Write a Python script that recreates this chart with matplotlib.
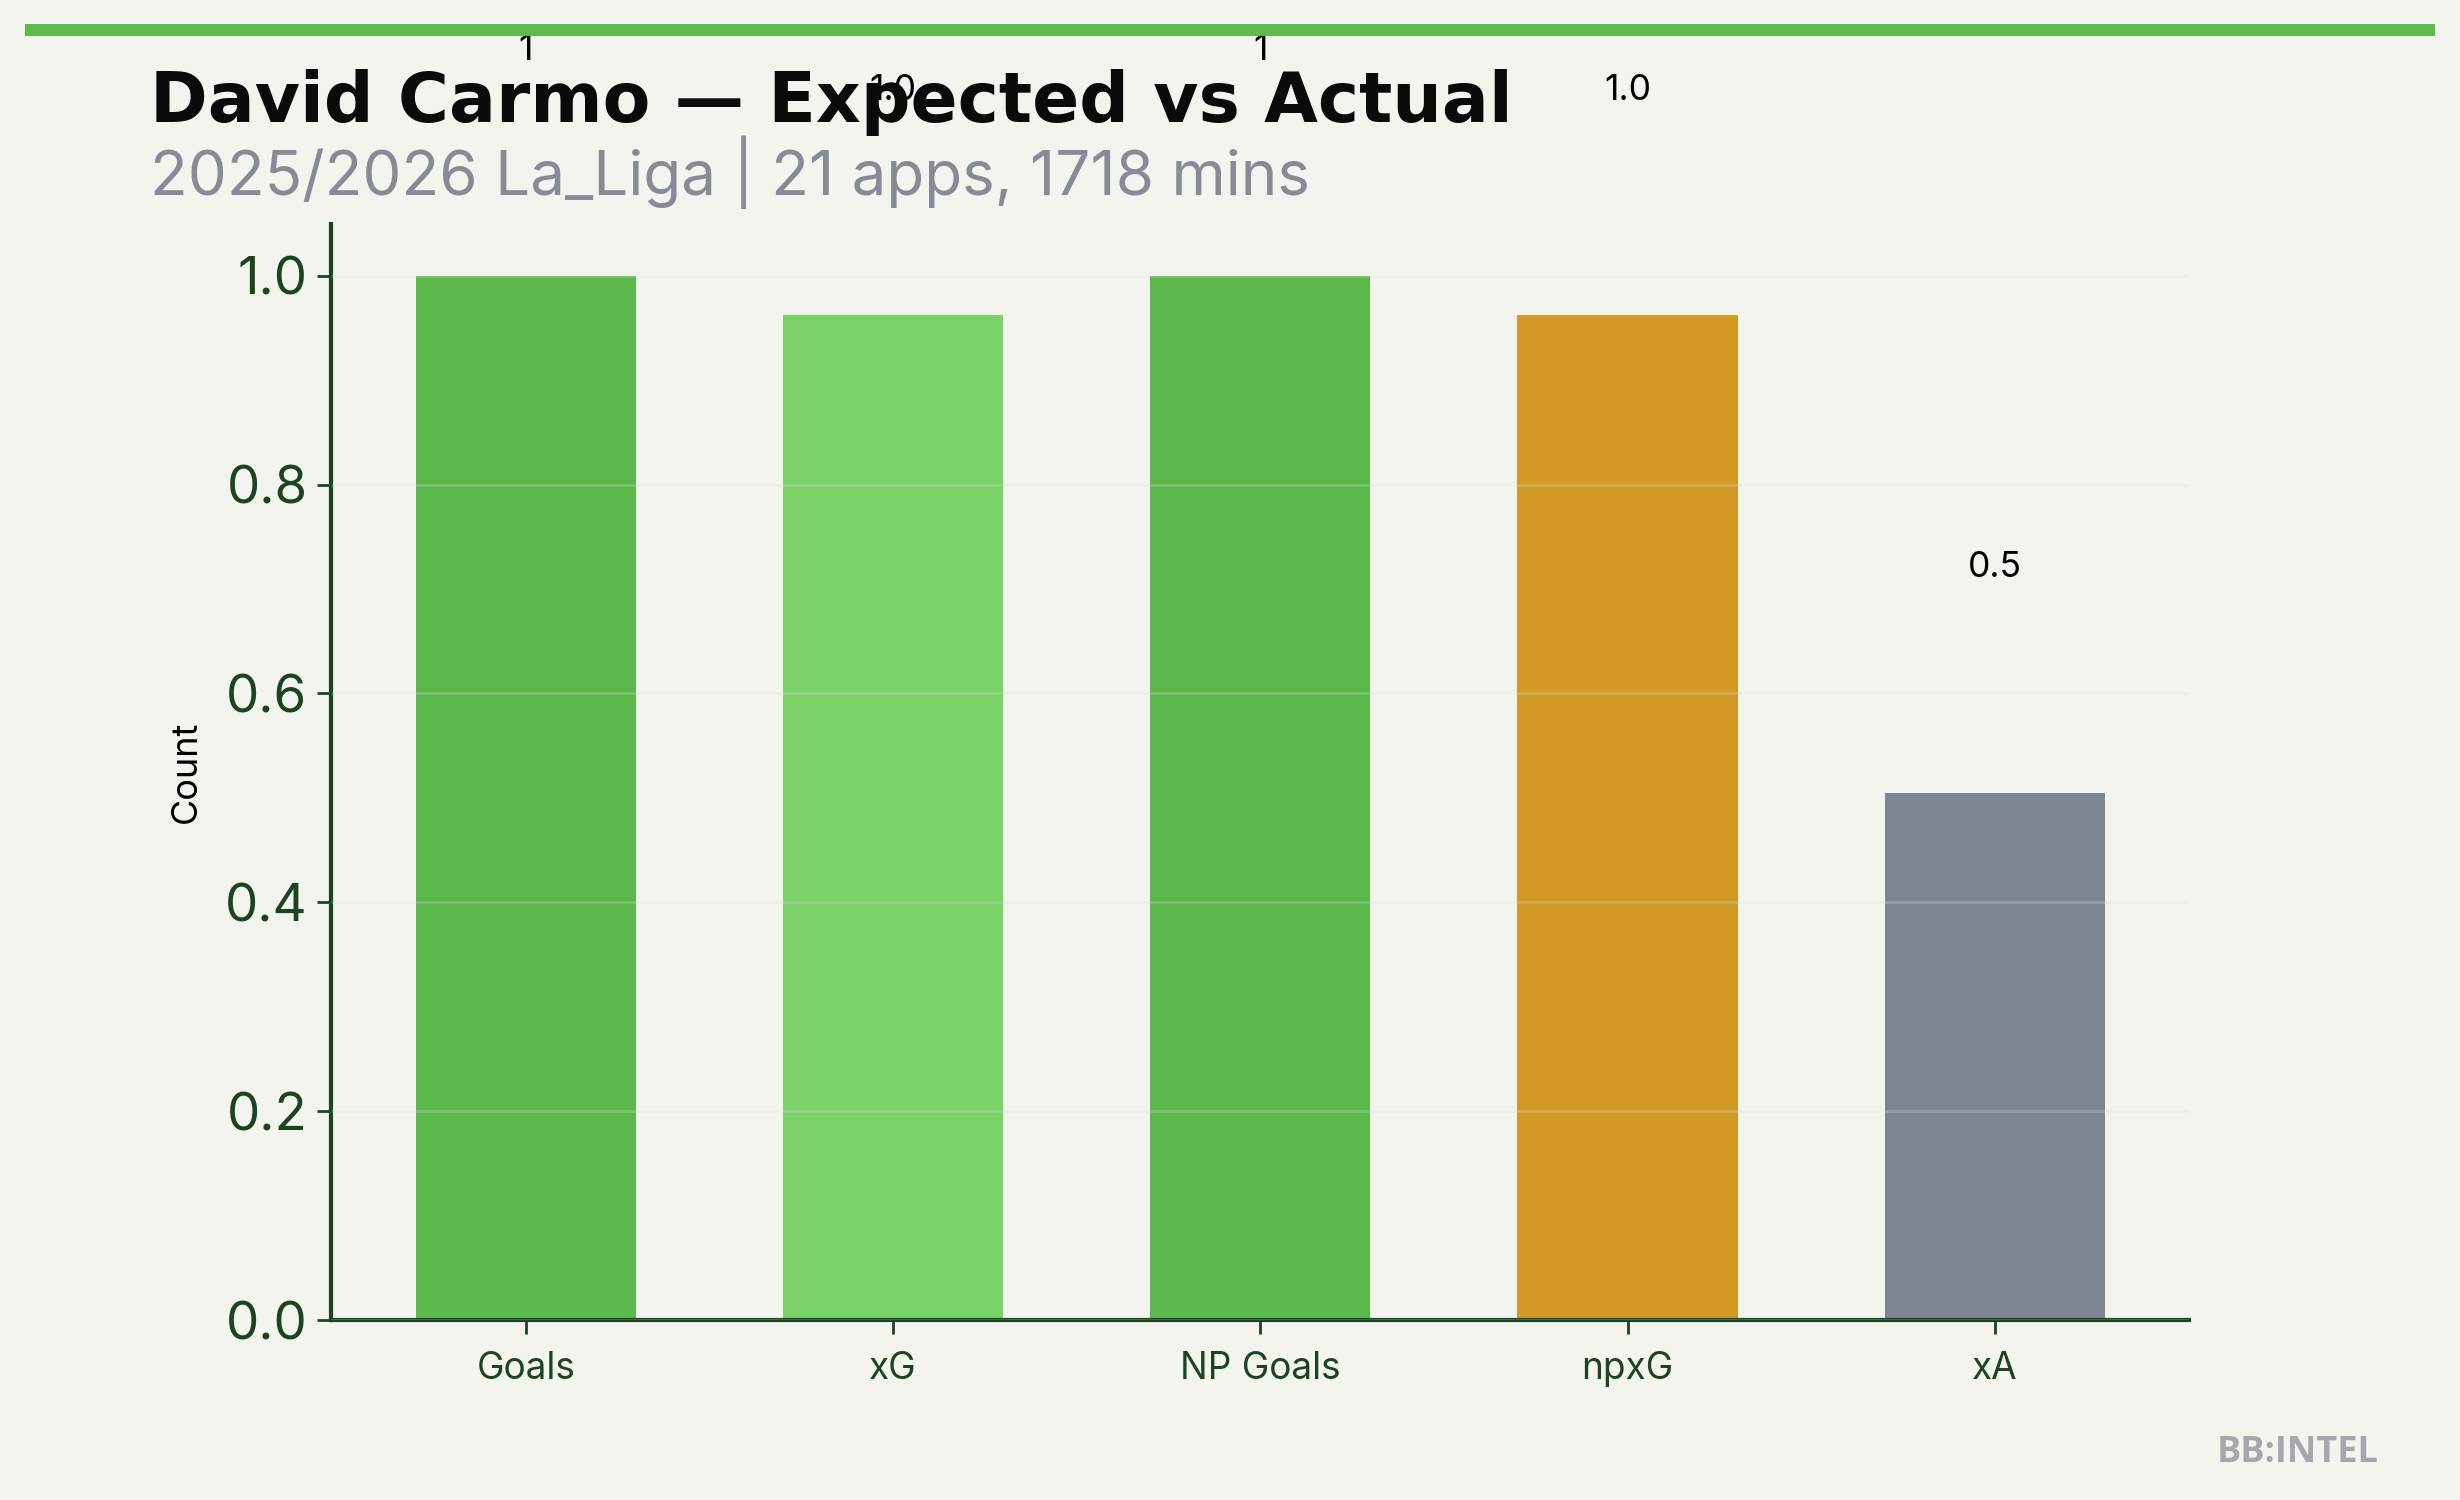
import matplotlib
matplotlib.use("Agg")
import matplotlib.pyplot as plt
from matplotlib.lines import Line2D

# data
metrics = ["Goals", "xG", "NP Goals", "npxG", "xA"]
values = [1, 0.962, 1, 0.962, 0.505]
labels = ["1", "1.0", "1", "1.0", "0.5"]
bar_colors = ["#5ab94a", "#7bd267", "#5ab94a", "#d29a24", "#7f8590"]

title = "David Carmo \u2014 Expected vs Actual"
subtitle = "2025/2026 La_Liga | 21 apps, 1718 mins"

BG = "#f4f4ef"
DARK = "#1b4423"

plt.rcParams["font.family"] = ["Inter", "DejaVu Sans"]

fig = plt.figure(figsize=(12.3, 7.5), dpi=200, facecolor=BG)
ax = fig.add_axes([0.1346, 0.12, 0.7554, 0.731])
ax.set_facecolor(BG)

x = range(len(metrics))
ax.bar(x, values, width=0.6, color=bar_colors, zorder=1)
for i, (v, lab) in enumerate(zip(values, labels)):
    ax.text(i, v + 0.2, lab, ha="center", va="bottom", fontsize=12.8,
            color="black", clip_on=False)

ax.set_xticks(list(x))
ax.set_xticklabels(metrics, fontsize=13.3, color=DARK)
ax.set_ylim(0, 1.05)
ax.set_yticks([0, 0.2, 0.4, 0.6, 0.8, 1.0])
ax.set_yticklabels(["0.0", "0.2", "0.4", "0.6", "0.8", "1.0"], fontsize=19, color=DARK)
ax.set_ylabel("Count", fontsize=13, color="black", labelpad=8)

for s in ["top", "right"]:
    ax.spines[s].set_visible(False)
for s in ["left", "bottom"]:
    ax.spines[s].set_color(DARK)
    ax.spines[s].set_linewidth(1.5)
ax.tick_params(axis="both", colors=DARK, length=5, width=1)
ax.tick_params(axis="x", pad=6)
ax.set_axisbelow(False)
ax.yaxis.grid(True, color="#dddddd", alpha=0.25, linewidth=1)

fig.add_artist(Line2D([0.0102, 0.9898], [0.98, 0.98], color="#5cba4a", linewidth=4.3,
                      solid_capstyle="butt", transform=fig.transFigure))
fig.text(0.061, 0.919, title, fontsize=25, fontweight="bold",
         family=["DejaVu Sans"], color="#0a0a0a", ha="left", va="baseline")
fig.text(0.061, 0.870, subtitle, fontsize=22.3, color="#868b95", ha="left", va="baseline")
fig.text(0.967, 0.025, "BB:INTEL", fontsize=13, fontweight="bold",
         family=["Open Sans", "DejaVu Sans"], color="#a4a8ae", ha="right", va="baseline")

fig.savefig("out.png", dpi=200, facecolor=BG)
